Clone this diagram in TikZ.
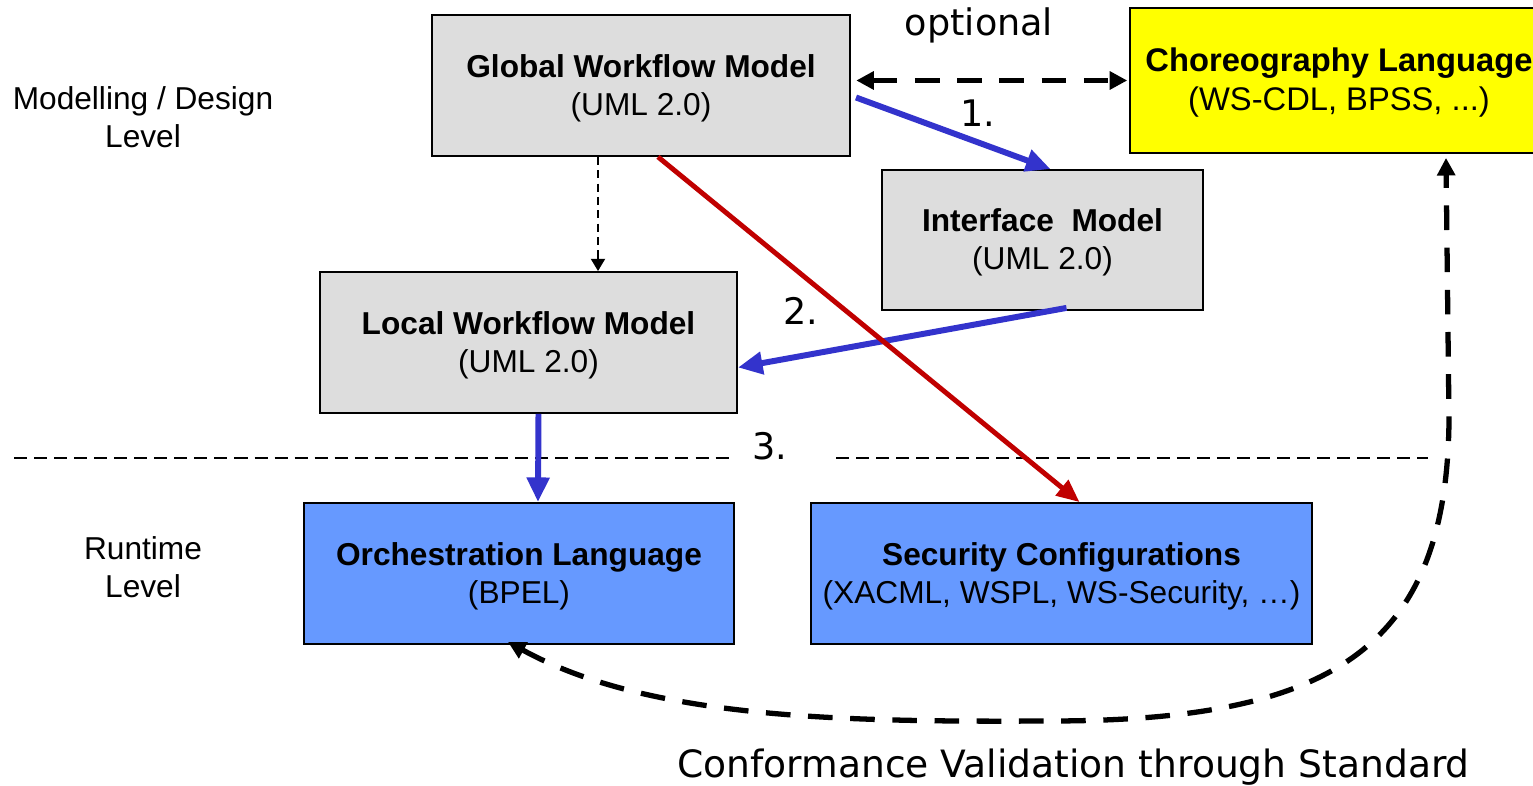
\documentclass[tikz,border=0pt]{standalone}
\usepackage{fontspec}
\setmainfont{Liberation Sans}
\newfontfamily\widefont{DejaVu Sans}
\usetikzlibrary{arrows.meta,calc}
\definecolor{modelgray}{RGB}{221,221,221}
\definecolor{choryellow}{RGB}{255,255,0}
\definecolor{runblue}{RGB}{102,153,255}
\definecolor{flowblue}{RGB}{51,51,204}
\definecolor{flowred}{RGB}{192,0,0}
\newcommand\modeltop{\rule{0pt}{8.1pt}}
\begin{document}
\begin{tikzpicture}[x=0.01cm,y=-0.01cm,
        model/.style={draw=black, line width=0.5pt, align=center, inner sep=0pt,
                      font=\fontsize{9}{10.8}\selectfont},
        graymodel/.style={model, fill=modelgray},
        levellabel/.style={align=center, inner sep=0pt, font=\fontsize{9}{10.8}\selectfont},
        steplabel/.style={inner sep=0pt, anchor=base, font=\widefont\fontsize{10.4}{12.5}\selectfont},
        bluearrow/.style={draw=flowblue, line width=1.7pt, -{Triangle[length=7pt,width=6.2pt]}},
        redarrow/.style={draw=flowred, line width=1.4pt, -{Triangle[length=6.5pt,width=5.5pt]}},
        refinearrow/.style={line width=0.6pt, dash pattern=on 2.3pt off 1.5pt, -{Triangle[length=3.5pt,width=4pt]}},
        heavydash/.style={line width=1.5pt, dash pattern=on 7pt off 5pt,
                          {Triangle[length=5pt,width=5pt]}-{Triangle[length=5pt,width=5pt]}},
        levelline/.style={line width=0.5pt, dash pattern=on 3.7pt off 2pt}]
        \useasboundingbox (0,0) rectangle (1533,786);

        \node[graymodel, minimum width=4.18cm, minimum height=1.41cm] (glob) at (641,85.5)
            {\modeltop\textbf{Global Workflow Model}\\(UML 2.0)};
        \node[model, fill=choryellow, minimum width=4.18cm, minimum height=1.45cm,
              font=\fontsize{9.3}{11.1}\selectfont] (chor) at (1339,80.5)
            {\modeltop\textbf{Choreography Language}\\(WS-CDL, BPSS, ...)};
        \node[graymodel, minimum width=3.21cm, minimum height=1.40cm] (iface) at (1042.5,240)
            {\modeltop\textbf{Interface\ \ Model}\\(UML 2.0)};
        \node[graymodel, minimum width=4.17cm, minimum height=1.41cm] (loc) at (528.5,342.5)
            {\modeltop\textbf{Local Workflow Model}\\(UML 2.0)};
        \node[model, fill=runblue, minimum width=4.30cm, minimum height=1.41cm] (orch) at (519,573.5)
            {\modeltop\textbf{Orchestration Language}\\(BPEL)};
        \node[model, fill=runblue, minimum width=5.01cm, minimum height=1.41cm] (sec) at (1061.5,573.5)
            {\modeltop\textbf{Security Configurations}\\(XACML, WSPL, WS-Security, …)};

        \node[levellabel] (design) at (143,117) {Modelling / Design\\Level};
        \node[levellabel] (runtime) at (143,567) {Runtime\\Level};
        \node[steplabel] (optional) at (979,36) {optional};
        \node[steplabel] (one) at (978,127) {1.};
        \node[steplabel] (two) at (801,325) {2.};
        \node[steplabel] (three) at (770,460) {3.};
        \node[steplabel, font=\widefont\fontsize{10.7}{12.8}\selectfont] (conformance) at (1073.5,778)
            {Conformance Validation through Standard};

        \coordinate (levelA) at (14,458);
        \coordinate (levelB) at (732,458);
        \coordinate (levelC) at (836,458);
        \coordinate (levelD) at (1428,458);
        \draw[levelline] (levelA) -- (levelB);
        \draw[levelline] (levelC) -- (levelD);

        \draw[heavydash, shorten <=1.5pt, shorten >=0.5pt] (glob.east |- chor.west) -- (chor.west);
        \draw[bluearrow] ($(glob.east)+(5,12)$) -- ($(iface.north)+(8,0)$);
        \draw[bluearrow] ($(iface.south)+(24,-3)$) -- ($(loc.east)+(0,25)$);
        \draw[bluearrow] ($(loc.south)+(10,0)$) -- ($(orch.north)+(19,0)$);
        \draw[redarrow] ($(glob.south)+(17,0)$) -- ($(sec.north)+(18,0)$);
        \draw[refinearrow] ($(glob.south)+(-43,0)$) -- ($(loc.north)+(69.5,0)$);

        \coordinate (orchtip) at ($(orch.south)+(-11,-3)$);
        \coordinate (chortip) at ($(chor.south)+(107,4)$);
        \draw[heavydash] (orchtip) .. controls (650,720) and (850,722) .. (1050,721)
            .. controls (1330,721) and (1447,650) .. (1449,420) -- (chortip);
\end{tikzpicture}
\end{document}
